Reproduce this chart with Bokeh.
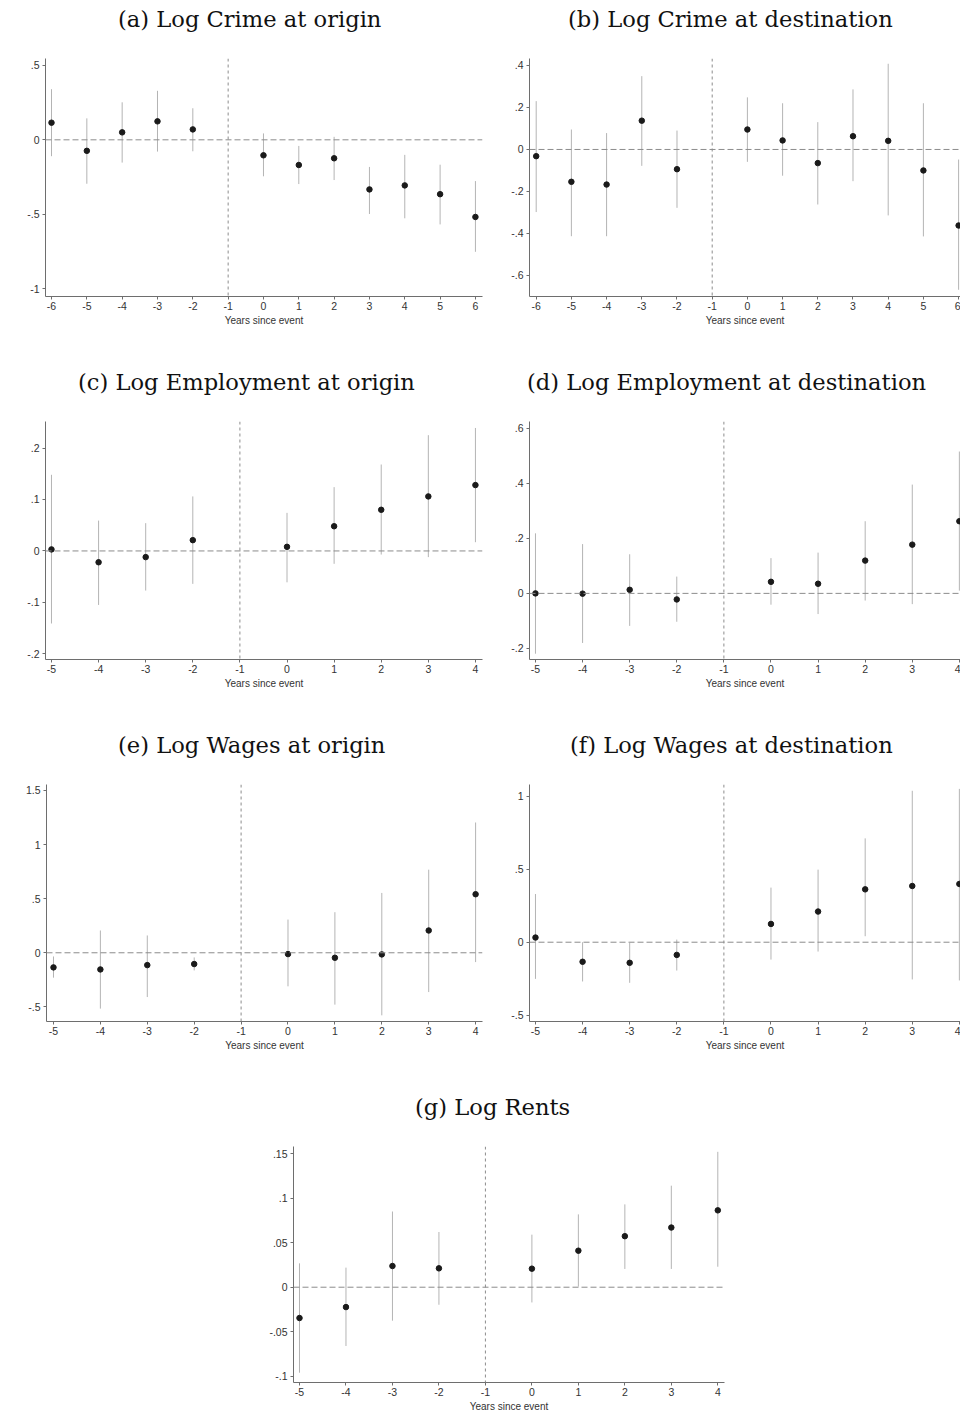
from bokeh.plotting import figure
from bokeh.layouts import column, row, Spacer
from bokeh.models import FixedTicker, Span, ColumnDataSource, Range1d, Div
from bokeh.embed import file_html
from bokeh.resources import INLINE

# ---------------- data ----------------
years_a = [-6, -5, -4, -3, -2, 0, 1, 2, 3, 4, 5, 6]
crime_origin = [0.115, -0.074, 0.050, 0.124, 0.070, -0.104, -0.169, -0.124, -0.333, -0.306, -0.365, -0.518]
crime_origin_hi = [0.340, 0.144, 0.252, 0.329, 0.212, 0.043, -0.041, 0.020, -0.182, -0.101, -0.167, -0.277]
crime_origin_lo = [-0.110, -0.295, -0.153, -0.079, -0.077, -0.245, -0.297, -0.270, -0.498, -0.527, -0.568, -0.752]

crime_dest = [-0.032, -0.154, -0.167, 0.137, -0.094, 0.095, 0.043, -0.065, 0.063, 0.041, -0.100, -0.362]
crime_dest_hi = [0.230, 0.095, 0.078, 0.349, 0.090, 0.248, 0.220, 0.130, 0.286, 0.408, 0.220, -0.048]
crime_dest_lo = [-0.298, -0.413, -0.413, -0.078, -0.278, -0.059, -0.125, -0.262, -0.151, -0.314, -0.414, -0.668]

years_b = [-5, -4, -3, -2, 0, 1, 2, 3, 4]
emp_origin = [0.003, -0.022, -0.012, 0.021, 0.008, 0.048, 0.080, 0.106, 0.128]
emp_origin_hi = [0.148, 0.059, 0.054, 0.106, 0.074, 0.124, 0.168, 0.225, 0.239]
emp_origin_lo = [-0.141, -0.105, -0.077, -0.064, -0.061, -0.025, -0.007, -0.012, 0.017]

emp_dest = [0.000, -0.001, 0.013, -0.022, 0.042, 0.035, 0.119, 0.177, 0.262]
emp_dest_hi = [0.218, 0.179, 0.142, 0.061, 0.128, 0.148, 0.262, 0.395, 0.515]
emp_dest_lo = [-0.219, -0.180, -0.118, -0.103, -0.041, -0.075, -0.026, -0.039, 0.010]

wage_origin = [-0.135, -0.154, -0.114, -0.104, -0.012, -0.046, -0.015, 0.206, 0.541]
wage_origin_hi = [-0.034, 0.206, 0.160, -0.043, 0.307, 0.375, 0.553, 0.768, 1.204]
wage_origin_lo = [-0.230, -0.516, -0.409, -0.163, -0.310, -0.479, -0.578, -0.363, -0.086]

wage_dest = [0.032, -0.134, -0.141, -0.087, 0.125, 0.210, 0.362, 0.385, 0.399]
wage_dest_hi = [0.330, 0.000, -0.005, 0.018, 0.374, 0.497, 0.711, 1.037, 1.050]
wage_dest_lo = [-0.251, -0.269, -0.278, -0.194, -0.119, -0.064, 0.041, -0.255, -0.262]

rents = [-0.0346, -0.0223, 0.0238, 0.0212, 0.0208, 0.0410, 0.0573, 0.0670, 0.0863]
rents_hi = [0.0268, 0.0220, 0.0850, 0.0620, 0.0590, 0.0818, 0.0930, 0.1140, 0.1520]
rents_lo = [-0.0960, -0.0660, -0.0376, -0.0197, -0.0171, 0.0007, 0.0205, 0.0205, 0.0230]

xticks_a = list(range(-6, 7))
xlabels_a = ["-6", "-5", "-4", "-3", "-2", "-1", "0", "1", "2", "3", "4", "5", "6"]
xticks_b = list(range(-5, 5))
xlabels_b = ["-5", "-4", "-3", "-2", "-1", "0", "1", "2", "3", "4"]

yt_crime_o = [-1, -0.5, 0, 0.5]
yl_crime_o = ["-1", "-.5", "0", ".5"]
yt_crime_d = [-0.6, -0.4, -0.2, 0, 0.2, 0.4]
yl_crime_d = ["-.6", "-.4", "-.2", "0", ".2", ".4"]
yt_emp_o = [-0.2, -0.1, 0, 0.1, 0.2]
yl_emp_o = ["-.2", "-.1", "0", ".1", ".2"]
yt_emp_d = [-0.2, 0, 0.2, 0.4, 0.6]
yl_emp_d = ["-.2", "0", ".2", ".4", ".6"]
yt_wage_o = [-0.5, 0, 0.5, 1, 1.5]
yl_wage_o = ["-.5", "0", ".5", "1", "1.5"]
yt_wage_d = [-0.5, 0, 0.5, 1]
yl_wage_d = ["-.5", "0", ".5", "1"]
yt_rent = [-0.1, -0.05, 0, 0.05, 0.1, 0.15]
yl_rent = ["-.1", "-.05", "0", ".05", ".1", ".15"]

TITLE_FONT = "DejaVu Serif"
TICK_FONT = "Liberation Sans"
HEAD_H = 40


def panel(title, years, coef, lo, hi, xticks, xlabels, xr, yr, yticks, ylabels,
          width, height, bl, br, bb, tleft):
    head = Div(text=title, width=width, height=HEAD_H, margin=0,
               styles={"font-family": "'DejaVu Serif', serif", "font-size": "22.6px",
                       "line-height": "26px", "padding-top": "6px",
                       "padding-left": f"{tleft}px", "color": "#111111",
                       "white-space": "nowrap", "box-sizing": "border-box",
                       "overflow": "visible"})
    p = figure(width=width, height=height - HEAD_H, output_backend="svg",
               toolbar_location=None, x_range=Range1d(*xr), y_range=Range1d(*yr),
               min_border_left=bl, min_border_right=br, min_border_top=58 - HEAD_H,
               min_border_bottom=bb)
    p.outline_line_color = None
    p.background_fill_color = "white"
    p.border_fill_color = "white"
    p.xgrid.visible = False
    p.ygrid.visible = False

    src = ColumnDataSource(dict(x=years, y=coef, lo=lo, hi=hi))
    p.add_layout(Span(location=0, dimension="width", line_color="#8c8c8c",
                      line_dash="6 3", line_width=1))
    p.add_layout(Span(location=-1, dimension="height", line_color="#8c8c8c",
                      line_dash="3 3", line_width=1))
    p.segment(x0="x", y0="lo", x1="x", y1="hi", source=src,
              line_color="#b4b4b4", line_width=1)
    p.scatter(x="x", y="y", source=src, size=5.5, fill_color="#1a1a1a",
              line_color="#1a1a1a")

    for ax in (p.xaxis[0], p.yaxis[0]):
        ax.axis_line_color = "#6e6e6e"
        ax.major_tick_line_color = "#6e6e6e"
        ax.major_tick_out = 3
        ax.major_tick_in = 0
        ax.minor_tick_line_color = None
        ax.major_label_text_font = TICK_FONT
        ax.major_label_text_font_size = "10.5px"
        ax.major_label_text_color = "#333333"
    p.xaxis.ticker = FixedTicker(ticks=xticks)
    p.xaxis.major_label_overrides = {t: l for t, l in zip(xticks, xlabels)}
    p.xaxis.major_label_standoff = 2
    p.xaxis.axis_label = "Years since event"
    p.xaxis.axis_label_text_font = TICK_FONT
    p.xaxis.axis_label_text_font_size = "10px"
    p.xaxis.axis_label_text_font_style = "normal"
    p.xaxis.axis_label_text_color = "#333333"
    p.xaxis.axis_label_standoff = 2
    p.yaxis.ticker = FixedTicker(ticks=yticks)
    p.yaxis.major_label_overrides = {t: l for t, l in zip(yticks, ylabels)}
    p.yaxis.major_label_standoff = 3
    return column(head, p, spacing=0)


pa = panel("(a) Log Crime at origin", years_a, crime_origin, crime_origin_lo, crime_origin_hi,
           xticks_a, xlabels_a, (-6.17, 6.2), (-1.052, 0.546), yt_crime_o, yl_crime_o,
           490, 363, 45, 8, 67, 118)
pb = panel("(b) Log Crime at destination", years_a, crime_dest, crime_dest_lo, crime_dest_hi,
           xticks_a, xlabels_a, (-6.19, 6.054), (-0.70, 0.433), yt_crime_d, yl_crime_d,
           470, 363, 39, 0, 67, 78)
pc = panel("(c) Log Employment at origin", years_b, emp_origin, emp_origin_lo, emp_origin_hi,
           xticks_b, xlabels_b, (-5.127, 4.15), (-0.211, 0.2516), yt_emp_o, yl_emp_o,
           490, 363, 45, 8, 67, 78)
pd = panel("(d) Log Employment at destination", years_b, emp_dest, emp_dest_lo, emp_dest_hi,
           xticks_b, xlabels_b, (-5.127, 4.024), (-0.24, 0.624), yt_emp_d, yl_emp_d,
           470, 363, 39, 0, 67, 37)
pe = panel("(e) Log Wages at origin", years_b, wage_origin, wage_origin_lo, wage_origin_hi,
           xticks_b, xlabels_b, (-5.149, 4.147), (-0.635, 1.555), yt_wage_o, yl_wage_o,
           490, 362, 46, 8, 67, 118)
pf = panel("(f) Log Wages at destination", years_b, wage_dest, wage_dest_lo, wage_dest_hi,
           xticks_b, xlabels_b, (-5.127, 4.024), (-0.543, 1.08), yt_wage_d, yl_wage_d,
           470, 362, 39, 0, 67, 80)
pg = panel("(g) Log Rents", years_b, rents, rents_lo, rents_hi,
           xticks_b, xlabels_b, (-5.129, 4.144), (-0.107, 0.158), yt_rent, yl_rent,
           488, 326, 45, 12, 31, 167)

layout = column(row(pa, pb, spacing=0), row(pc, pd, spacing=0), row(pe, pf, spacing=0),
                row(Spacer(width=248, height=326), pg, spacing=0), spacing=0)

open("out.html", "w").write(file_html(layout, INLINE))
